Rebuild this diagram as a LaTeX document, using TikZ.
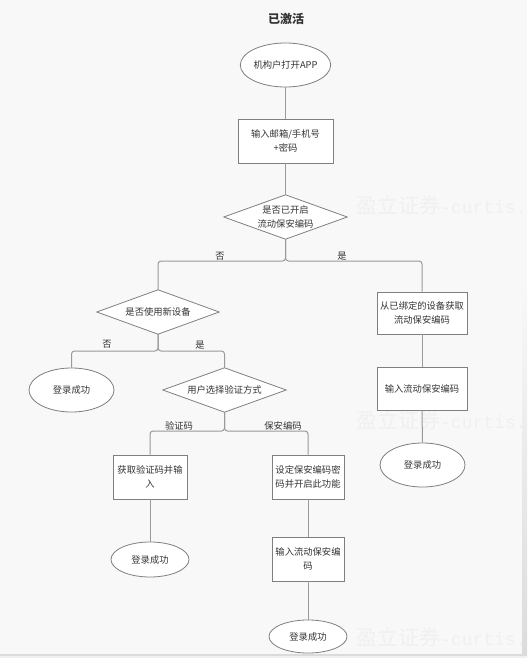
\documentclass[tikz,border=0pt]{standalone}
\usepackage{fontspec}
\setmainfont{Noto Sans CJK SC}
\newfontfamily\wmmono{Liberation Mono}
\usetikzlibrary{shapes.geometric}
\pgfdeclarelayer{bg}
\pgfdeclarelayer{mid}
\pgfsetlayers{bg,mid,main}
\definecolor{bgc}{HTML}{F8F8F8}
\definecolor{txt}{HTML}{333333}
\definecolor{edge}{HTML}{7F7F7F}
\definecolor{conc}{HTML}{9A9A9A}
\definecolor{wmc}{HTML}{F0F0F0}
\tikzset{
  every node/.style={text=txt, font=\fontsize{9.3}{14}\selectfont, align=center, inner sep=0pt},
  termnode/.style={ellipse, draw=edge, fill=white, line width=0.8pt},
  boxnode/.style={rectangle, draw=edge, fill=white, line width=0.8pt},
  decnode/.style={rectangle, draw=none},
  decshape/.style={draw=edge, fill=white, line width=0.8pt, line join=miter},
  conn/.style={draw=conc, line width=1pt, rounded corners=3pt},
  lbl/.style={font=\fontsize{9.3}{11}\selectfont},
  wmark/.style={text=wmc, anchor=west, font=\fontsize{21}{24}\selectfont}
}
\begin{document}
\begin{tikzpicture}[x=1pt, y=-1pt]
\begin{pgfonlayer}{bg}
  \fill[bgc] (0,0) rectangle (527,658);
  \shade[top color=bgc, bottom color=black!14] (522,283) rectangle (527,658);
  \fill[black!14] (0,654) rectangle (527,656);
  \fill[black!6] (0,656) rectangle (527,658);
  \node[wmark] (wm1) at (356,205) {盈立证券{\wmmono\fontsize{18}{20}\selectfont -curtis.}};
  \node[wmark] (wm2) at (356,420) {盈立证券{\wmmono\fontsize{18}{20}\selectfont -curtis.}};
  \node[wmark] (wm3) at (356,637) {盈立证券{\wmmono\fontsize{18}{20}\selectfont -curtis.}};
\end{pgfonlayer}
\useasboundingbox (0,0) rectangle (527,658);

\node[font=\fontsize{12}{14}\selectfont\bfseries] (title) at (286,19) {已激活};

\node[termnode, minimum width=85pt, minimum height=44pt] (start) at (285.5,65) {机构户打开APP};
\node[boxnode, minimum width=95pt, minimum height=44pt] (b1) at (285.5,141) {输入邮箱/手机号\\+密码};
\node[decnode, minimum width=123pt, minimum height=44pt] (d1) at (285.5,217) {是否已开启\\流动保安编码};
\coordinate (j1) at (285.5,261);

\node[decnode, minimum width=122pt, minimum height=44pt] (d2) at (158,312) {是否使用新设备};
\coordinate (j2) at (158,351);

\node[boxnode, minimum width=90pt, minimum height=42pt] (r1) at (422,313) {从已绑定的设备获取\\流动保安编码};
\node[boxnode, minimum width=90pt, minimum height=43pt] (r2) at (422,388.5) {输入流动保安编码};
\node[termnode, minimum width=85pt, minimum height=44pt] (r3) at (422.5,465) {登录成功};

\node[termnode, minimum width=85pt, minimum height=44pt] (l1) at (71.5,390) {登录成功};
\node[decnode, minimum width=123pt, minimum height=44pt] (d3) at (224.5,390) {用户选择验证方式};
\coordinate (j3) at (224.5,431);

\node[boxnode, minimum width=74pt, minimum height=44pt] (l2) at (150,477) {获取验证码并输\\入};
\node[boxnode, minimum width=72pt, minimum height=44pt] (m2) at (308,477) {设定保安编码密\\码并开启此功能};
\node[termnode, minimum width=78pt, minimum height=35pt] (l3) at (150,559.5) {登录成功};
\node[boxnode, minimum width=72pt, minimum height=44pt] (m3) at (308,559) {输入流动保安编\\码};
\node[termnode, minimum width=78pt, minimum height=33pt] (m4) at (308,636.5) {登录成功};

\begin{pgfonlayer}{mid}
  \foreach \d in {d1,d2,d3}
    \draw[decshape] (\d.north) -- (\d.east) -- (\d.south) -- (\d.west) -- cycle;
\end{pgfonlayer}

\draw[conn] (start) -- (b1);
\draw[conn] (b1) -- (d1.north);
\draw[conn] (d1.south) -- (j1) -| (d2.north);
\draw[conn] (d1.south) -- (j1) -| (r1.north);
\draw[conn] (r1) -- (r2);
\draw[conn] (r2) -- (r3);
\draw[conn] (d2.south) -- (j2) -| (l1.north);
\draw[conn] (d2.south) -- (j2) -| (d3.north);
\draw[conn] (d3.south) -- (j3) -| (l2.north);
\draw[conn] (d3.south) -- (j3) -| (m2.north);
\draw[conn] (l2) -- (l3);
\draw[conn] (m2) -- (m3);
\draw[conn] (m3) -- (m4);

\node[lbl] (n1) at (220,256.5) {否};
\node[lbl] (y1) at (342,256.5) {是};
\node[lbl] (n2) at (107,344) {否};
\node[lbl] (y2) at (200,345.5) {是};
\node[lbl] (vc) at (179,426) {验证码};
\node[lbl] (bc) at (283,426) {保安编码};
\end{tikzpicture}
\end{document}
